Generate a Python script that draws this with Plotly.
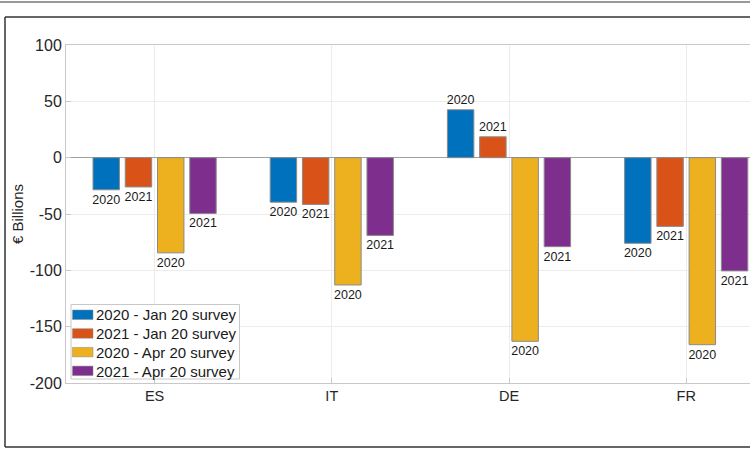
import plotly.graph_objects as go

countries = ["ES", "IT", "DE", "FR"]
jan_2020 = [-28.5, -39.5, 42.5, -76]
jan_2021 = [-26, -41.5, 18.5, -61]
apr_2020 = [-84.5, -113, -163, -166]
apr_2021 = [-49.5, -69, -79, -100.5]
y_ticks = [-200, -150, -100, -50, 0, 50, 100]
y_ticktext = ["-200", "-150", "-100", "-50", "0", "50", "100"]

series = [
    ("2020 - Jan 20 survey", "2020", jan_2020, "#0072BD"),
    ("2021 - Jan 20 survey", "2021", jan_2021, "#D95319"),
    ("2020 - Apr 20 survey", "2020", apr_2020, "#EDB120"),
    ("2021 - Apr 20 survey", "2021", apr_2021, "#7E2F8E"),
]

x_pos = [1, 2, 3, 4]

# plot area in pixels: left 66, right 750, top 45, bottom 383
def px(x):
    return (x - 66) / 684


def py(y):
    return (383 - y) / 338


fig = go.Figure()
for name, label, vals, color in series:
    fig.add_trace(
        go.Bar(
            x=x_pos,
            y=vals,
            name=name,
            marker=dict(color=color, line=dict(color="#8a8a8a", width=1)),
            text=[label] * len(vals),
            textposition="outside",
            textfont=dict(size=12.5, color="#1a1a1a"),
            constraintext="none",
            cliponaxis=False,
            showlegend=False,
        )
    )

# outer frame, like the exported figure window
frame = dict(type="line", xref="paper", yref="paper", line=dict(color="#333", width=1.5))
fig.add_shape(frame, x0=px(-10), x1=px(760), y0=py(2), y1=py(2), line=dict(color="#777", width=1.5))
fig.add_shape(frame, x0=px(5), x1=px(760), y0=py(17), y1=py(17))
fig.add_shape(frame, x0=px(5), x1=px(5), y0=py(17), y1=py(447))
fig.add_shape(frame, x0=px(5), x1=px(760), y0=py(447), y1=py(447))

# legend box drawn by hand (MATLAB style swatches)
fig.add_shape(
    type="rect", xref="paper", yref="paper",
    x0=px(71), x1=px(239.5), y0=py(304.5), y1=py(379),
    fillcolor="white", line=dict(color="#c8c8c8", width=1), layer="above",
)
for i, (name, _, _, color) in enumerate(series):
    top = 310 + i * 18.7
    fig.add_shape(
        type="rect", xref="paper", yref="paper",
        x0=px(72.5), x1=px(93), y0=py(top), y1=py(top + 9.5),
        fillcolor=color, line=dict(color="#8a8a8a", width=0.5), layer="above",
    )
    fig.add_annotation(
        xref="paper", yref="paper", x=px(93.5), y=py(top + 4.9),
        text=name, showarrow=False, xanchor="left", yanchor="middle",
        font=dict(size=15, color="#1a1a1a"),
    )

fig.update_layout(
    width=750,
    height=449,
    margin=dict(l=66, r=0, t=45, b=66, autoexpand=False),
    paper_bgcolor="white",
    plot_bgcolor="white",
    font=dict(family="Liberation Sans, Arial, sans-serif", size=15, color="#262626"),
    barmode="group",
    bargap=0.272,
    bargroupgap=0.18,
    showlegend=False,
    xaxis=dict(
        range=[0.5, 4.36],
        tickvals=x_pos,
        ticktext=countries,
        tickfont=dict(size=14.5),
        showgrid=True,
        gridcolor="#ececec",
        showline=True,
        mirror=True,
        linecolor="#c8c8c8",
        ticks="inside",
        ticklen=5,
        tickcolor="#c8c8c8",
        zeroline=False,
        automargin=False,
    ),
    yaxis=dict(
        range=[-200, 100],
        tickvals=y_ticks,
        ticktext=y_ticktext,
        tickfont=dict(size=16),
        showgrid=True,
        gridcolor="#ececec",
        showline=True,
        mirror=True,
        linecolor="#c8c8c8",
        ticks="inside",
        ticklen=5,
        tickcolor="#c8c8c8",
        zeroline=True,
        zerolinecolor="#a0a0a0",
        zerolinewidth=1,
        automargin=False,
        title=dict(text="€ Billions", standoff=2, font=dict(size=15)),
    ),
)

fig.write_html(
    "out.html",
    config={"displayModeBar": False},
    post_script="document.body.style.margin='0px';document.body.style.overflow='hidden';",
)
